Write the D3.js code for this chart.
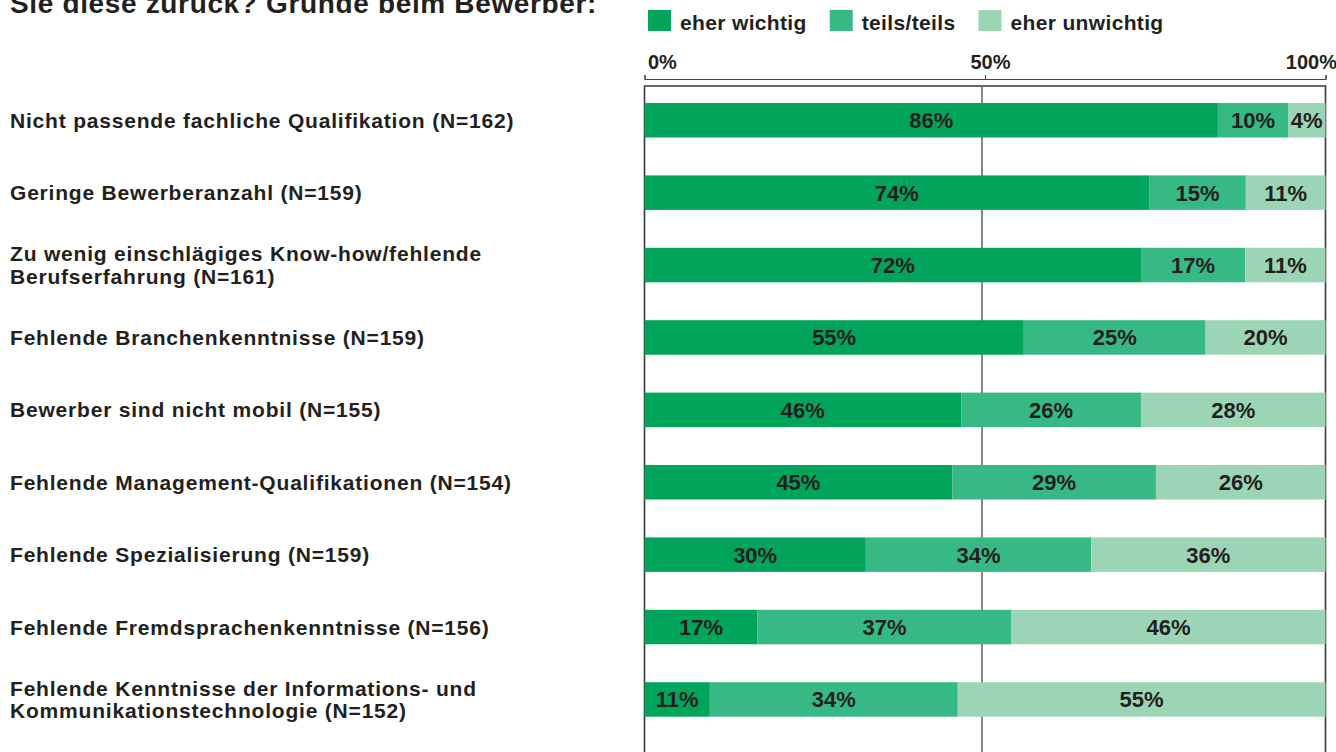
<!DOCTYPE html>
<html lang="de">
<head>
    <meta charset="UTF-8">
    <title>Gründe beim Bewerber</title>
    <style>
        body { margin: 0; background: #fff; }
        svg text { font-family: "Liberation Sans", Arial, sans-serif; font-weight: bold; fill: #231f20; }
    </style>
</head>
<body>
    <svg id="chart"></svg>
    <script src="https://d3js.org/d3.v7.min.js"></script>
    <script>
    // row labels, one entry per line
    const categories = [
        ["Nicht passende fachliche Qualifikation (N=162)"],
        ["Geringe Bewerberanzahl (N=159)"],
        ["Zu wenig einschlägiges Know-how/fehlende", "Berufserfahrung (N=161)"],
        ["Fehlende Branchenkenntnisse (N=159)"],
        ["Bewerber sind nicht mobil (N=155)"],
        ["Fehlende Management-Qualifikationen (N=154)"],
        ["Fehlende Spezialisierung (N=159)"],
        ["Fehlende Fremdsprachenkenntnisse (N=156)"],
        ["Fehlende Kenntnisse der Informations- und", "Kommunikationstechnologie (N=152)"]
    ];

    const seriesNames = ["eher wichtig", "teils/teils", "eher unwichtig"];
    const seriesColors = ["#00a55b", "#37b986", "#9cd4b6"];

    // segment lengths as drawn in the picture (in %)
    const wichtig   = [84.2, 74.1, 72.9, 55.7, 46.5, 45.2, 32.5, 16.6, 9.6];
    const teils     = [10.3, 14.2, 15.3, 26.7, 26.4, 29.9, 33.1, 37.3, 36.4];
    const unwichtig = [5.5, 11.7, 11.8, 17.6, 27.1, 24.9, 34.4, 46.1, 54.0];

    // printed labels
    const wichtigLabels   = ["86%", "74%", "72%", "55%", "46%", "45%", "30%", "17%", "11%"];
    const teilsLabels     = ["10%", "15%", "17%", "25%", "26%", "29%", "34%", "37%", "34%"];
    const unwichtigLabels = ["4%", "11%", "11%", "20%", "28%", "26%", "36%", "46%", "55%"];

    const tickValues = [0, 50, 100];
    const tickLabels = ["0%", "50%", "100%"];

    const title = "Sie diese zurück? Gründe beim Bewerber:";

    const width = 1336, height = 752;

    let svg = d3.select("#chart")
        .attr("width", width)
        .attr("height", height);

    let rows = categories.map((c, i) => ({
        id: i,
        lines: c,
        values: [wichtig[i], teils[i], unwichtig[i]],
        labels: [wichtigLabels[i], teilsLabels[i], unwichtigLabels[i]]
    }));

    let x_scale = d3.scaleLinear()
        .domain([0, 100])
        .range([644.5, 1325.5]);

    let y_scale = d3.scaleBand()
        .domain(rows.map(d => d.id))
        .range([103, 716.7])
        .paddingInner(0.5235)
        .paddingOuter(0);

    let color = d3.scaleOrdinal()
        .domain(d3.range(seriesNames.length))
        .range(seriesColors);

    // title (cut at the top like in the source)
    svg.append("text")
        .attr("x", 10)
        .attr("y", 13)
        .style("font-size", "28px")
        .style("letter-spacing", "0.65px")
        .text(title);

    // legend
    let legend = svg.append("g");
    let lx = 648;
    seriesNames.forEach((name, i) => {
        legend.append("rect")
            .attr("x", lx)
            .attr("y", 10)
            .attr("width", 23)
            .attr("height", 21)
            .attr("fill", color(i));
        let t = legend.append("text")
            .attr("x", lx + 32)
            .attr("y", 30)
            .style("font-size", "21px")
            .style("letter-spacing", "0.35px")
            .text(name);
        lx += 32 + t.node().getComputedTextLength() + 23;
    });

    // top axis
    let x_axis = d3.axisTop(x_scale)
        .tickValues(tickValues)
        .tickSize(4)
        .tickFormat((d, i) => tickLabels[i]);

    let axis_g = svg.append("g")
        .attr("transform", "translate(0,79)")
        .call(x_axis);
    axis_g.select(".domain").attr("stroke", "#444").attr("stroke-width", 1.2);
    axis_g.selectAll(".tick line").attr("stroke", "#444");
    axis_g.selectAll(".tick text")
        .attr("y", -10)
        .style("font-size", "20px")
        .style("font-family", "'Liberation Sans', Arial, sans-serif")
        .attr("text-anchor", (d, i) => i == 0 ? "start" : (i == tickValues.length - 1 ? "end" : "middle"))
        .attr("dx", (d, i) => i == 0 ? 3 : (i == tickValues.length - 1 ? 11 : 5));

    // frame and 50% line
    let frameTop = 86;
    svg.append("path")
        .attr("d", "M" + x_scale(0) + "," + (height + 5) + "V" + frameTop +
                   "H" + x_scale(100) + "V" + (height + 5))
        .attr("fill", "none")
        .attr("stroke", "#3a3a3a")
        .attr("stroke-width", 1.6);

    svg.append("line")
        .attr("x1", x_scale(50) - 3).attr("x2", x_scale(50) - 3)
        .attr("y1", frameTop).attr("y2", height + 5)
        .attr("stroke", "#6a6a6a")
        .attr("stroke-width", 1.6);

    // stacked bars
    let stack = d3.stack()
        .keys([0, 1, 2])
        .value((d, k) => d.values[k]);
    let stacked = stack(rows);

    let layers = svg.append("g")
        .selectAll("g")
        .data(stacked)
        .enter()
        .append("g")
            .attr("fill", d => color(d.key));

    layers.selectAll("rect")
        .data(d => d)
        .enter()
        .append("rect")
            .attr("x", d => x_scale(d[0]))
            .attr("y", d => y_scale(d.data.id))
            .attr("width", d => x_scale(d[1]) - x_scale(d[0]))
            .attr("height", y_scale.bandwidth());

    layers.selectAll("text")
        .data(d => d.map(s => ({s: s, key: d.key})))
        .enter()
        .append("text")
            .attr("x", d => (x_scale(d.s[0]) + x_scale(d.s[1])) / 2)
            .attr("y", d => y_scale(d.s.data.id) + y_scale.bandwidth() / 2)
            .attr("dy", "0.36em")
            .attr("text-anchor", "middle")
            .style("font-size", "22px")
            .text(d => d.s.data.labels[d.key]);

    // row labels
    let lineHeight = 22.5;
    let labels = svg.append("g")
        .selectAll("text")
        .data(rows)
        .enter()
        .append("text")
            .attr("y", d => y_scale(d.id) + y_scale.bandwidth() / 2 - (d.lines.length - 1) * lineHeight / 2)
            .style("font-size", "21px")
            .style("letter-spacing", "0.8px");

    labels.selectAll("tspan")
        .data(d => d.lines)
        .enter()
        .append("tspan")
            .attr("x", 10)
            .attr("dy", (d, i) => i == 0 ? "0.36em" : lineHeight)
            .text(d => d);
    </script>
</body>
</html>
